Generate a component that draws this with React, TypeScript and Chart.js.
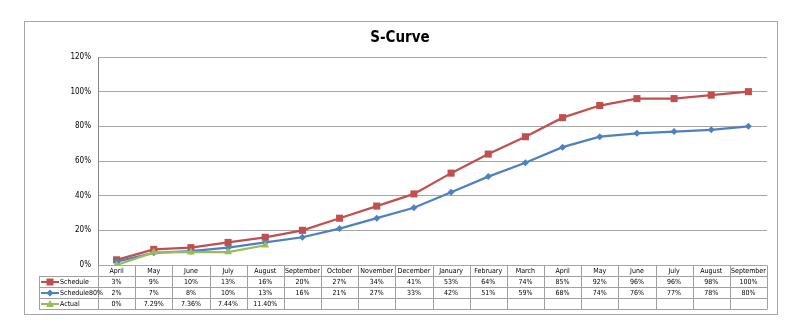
import React, { useEffect, useRef } from 'react';
import { Chart, registerables } from 'chart.js';
Chart.register(...registerables);

const categories = ['April', 'May', 'June', 'July', 'August', 'September', 'October', 'November', 'December', 'January', 'February', 'March', 'April', 'May', 'June', 'July', 'August', 'September'];
const schedule = [3, 9, 10, 13, 16, 20, 27, 34, 41, 53, 64, 74, 85, 92, 96, 96, 98, 100];
const schedule80 = [2, 7, 8, 10, 13, 16, 21, 27, 33, 42, 51, 59, 68, 74, 76, 77, 78, 80];
const actual = [0, 7.29, 7.36, 7.44, 11.40];
const seriesNames = ['Schedule', 'Schedule80%', 'Actual'];
const yMin = 0;
const yMax = 120;
const yStep = 20;
const chartTitle = 'S-Curve';

const RED = '#C0504D';
const BLUE = '#4F81BD';
const GREEN = '#9BBB59';
const FONT = "'Liberation Sans Narrow', 'DejaVu Sans Condensed', 'Liberation Sans', sans-serif";

const fmtPlain = (v: number) => `${v}%`;
const fmtActual = (v: number) => (v === 0 ? '0%' : `${v.toFixed(2)}%`);

function marker(ctx: CanvasRenderingContext2D, style: string, x: number, y: number, color: string) {
  ctx.save();
  ctx.fillStyle = color;
  ctx.beginPath();
  if (style === 'rect') {
    ctx.rect(x - 3.5, y - 3.5, 7, 7);
  } else if (style === 'rectRot') {
    ctx.moveTo(x, y - 3.5);
    ctx.lineTo(x + 3.5, y);
    ctx.lineTo(x, y + 3.5);
    ctx.lineTo(x - 3.5, y);
    ctx.closePath();
  } else {
    ctx.moveTo(x, y - 4);
    ctx.lineTo(x + 4, y + 3);
    ctx.lineTo(x - 4, y + 3);
    ctx.closePath();
  }
  ctx.fill();
  ctx.restore();
}

const framePlugin = {
  id: 'frame',
  beforeDraw(chart: any) {
    const ctx: CanvasRenderingContext2D = chart.ctx;
    ctx.save();
    ctx.fillStyle = '#fff';
    ctx.fillRect(0, 0, chart.width, chart.height);
    ctx.strokeStyle = '#a6a6a6';
    ctx.lineWidth = 1;
    ctx.strokeRect(24.5, 21.5, 753, 293);
    ctx.fillStyle = '#000';
    ctx.font = `bold 15px ${FONT}`;
    ctx.textAlign = 'center';
    ctx.textBaseline = 'middle';
    ctx.fillText(chartTitle, 400, 38);
    ctx.restore();
  },
  afterDraw(chart: any) {
    const ctx: CanvasRenderingContext2D = chart.ctx;
    const area = chart.chartArea;
    const n = categories.length;
    const colW = (area.right - area.left) / n;
    const top = Math.round(area.bottom);
    const rowH = 10.9;
    const legendLeft = 39;
    const rows = [top, top + rowH, top + 2 * rowH, top + 3 * rowH, top + 4 * rowH].map((v) => Math.round(v) + 0.5);
    ctx.save();
    ctx.strokeStyle = '#a0a0a0';
    ctx.lineWidth = 1;
    ctx.beginPath();
    for (let r = 1; r < rows.length; r++) {
      ctx.moveTo(legendLeft, rows[r]);
      ctx.lineTo(area.right, rows[r]);
    }
    ctx.moveTo(legendLeft + 0.5, rows[1]);
    ctx.lineTo(legendLeft + 0.5, rows[4]);
    for (let i = 0; i <= n; i++) {
      const x = Math.round(area.left + i * colW) + 0.5;
      ctx.moveTo(x, rows[0]);
      ctx.lineTo(x, rows[4]);
    }
    ctx.stroke();

    ctx.fillStyle = '#000';
    ctx.textAlign = 'center';
    ctx.textBaseline = 'middle';
    ctx.font = `7px ${FONT}`;
    const rowData: string[][] = [
      categories,
      schedule.map(fmtPlain),
      schedule80.map(fmtPlain),
      actual.map(fmtActual),
    ];
    rowData.forEach((arr, r) => {
      const cy = (rows[r] + rows[r + 1]) / 2 + 0.5;
      arr.forEach((t, i) => {
        ctx.fillText(t, area.left + (i + 0.5) * colW, cy);
      });
    });

    const colors = [RED, BLUE, GREEN];
    const styles = ['rect', 'rectRot', 'triangle'];
    ctx.textAlign = 'left';
    seriesNames.forEach((name, k) => {
      const cy = (rows[k + 1] + rows[k + 2]) / 2;
      ctx.strokeStyle = colors[k];
      ctx.lineWidth = 2;
      ctx.beginPath();
      ctx.moveTo(41, cy);
      ctx.lineTo(59, cy);
      ctx.stroke();
      marker(ctx, styles[k], 50, cy, colors[k]);
      ctx.fillStyle = '#000';
      ctx.fillText(name, 60, cy + 0.5);
    });
    ctx.restore();
  },
};

export default function App() {
  const ref = useRef<HTMLCanvasElement | null>(null);
  useEffect(() => {
    document.body.style.margin = '0';
    const canvas = ref.current!;
    const chart = new Chart(canvas, {
      type: 'line',
      data: {
        labels: categories,
        datasets: [
          {
            label: seriesNames[0],
            data: schedule,
            borderColor: RED,
            backgroundColor: RED,
            borderWidth: 2.25,
            pointStyle: 'rect',
            pointRadius: 5,
            pointBorderWidth: 0,
            tension: 0,
            order: 3,
          },
          {
            label: seriesNames[1],
            data: schedule80,
            borderColor: BLUE,
            backgroundColor: BLUE,
            borderWidth: 2.25,
            pointStyle: 'rectRot',
            pointRadius: 3.5,
            pointBorderWidth: 0,
            tension: 0,
            order: 2,
          },
          {
            label: seriesNames[2],
            data: actual,
            borderColor: GREEN,
            backgroundColor: GREEN,
            borderWidth: 2.25,
            pointStyle: 'triangle',
            pointRadius: 4.5,
            pointBorderWidth: 0,
            tension: 0,
            order: 1,
          },
        ],
      },
      options: {
        responsive: false,
        animation: false,
        layout: { padding: { top: 57, bottom: 66, right: 19, left: 0 } },
        plugins: {
          legend: { display: false },
          title: { display: false },
          tooltip: { enabled: false },
        },
        scales: {
          x: {
            type: 'category',
            offset: true,
            display: false,
          },
          y: {
            min: yMin,
            max: yMax,
            afterFit: (s: any) => {
              s.width = 98;
            },
            ticks: {
              stepSize: yStep,
              padding: 7,
              color: '#000',
              font: { family: FONT, size: 8 },
              callback: (v: any) => `${v}%`,
            },
            grid: { color: '#a6a6a6', lineWidth: 1, drawTicks: false },
            border: { color: '#868686', width: 1 },
          },
        },
      },
      plugins: [framePlugin],
    });
    return () => chart.destroy();
  }, []);
  return <canvas ref={ref} width={786} height={331} style={{ display: 'block' }} />;
}
